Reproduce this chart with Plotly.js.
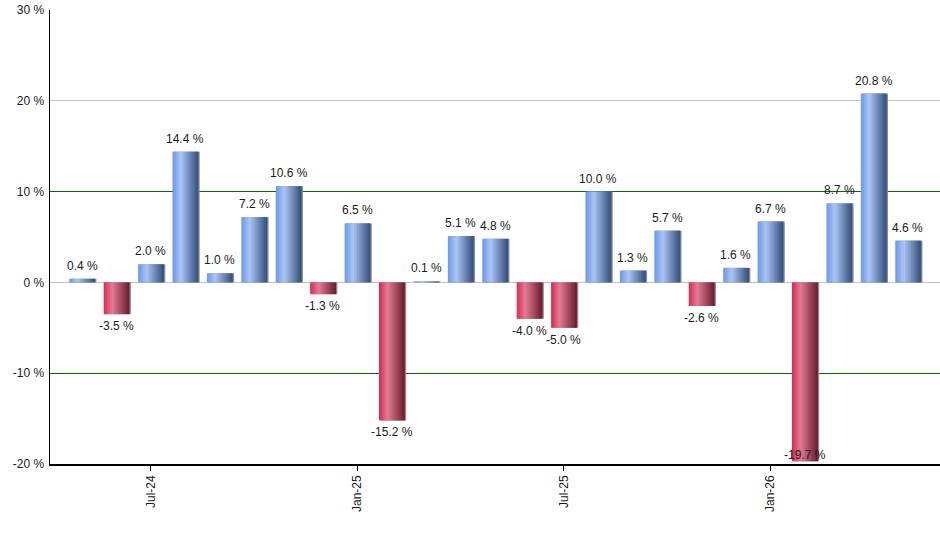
<!DOCTYPE html>
<html>
<head>
<meta charset="utf-8">
<script src="https://cdn.plot.ly/plotly-3.0.1.min.js"></script>
<style>
  html, body { margin: 0; padding: 0; background: #fff; }
  #chart { width: 940px; height: 550px; }
</style>
</head>
<body>
<div id="chart"></div>
<script>
// monthly returns, May-24 .. May-26
let months = ['May-24', 'Jun-24', 'Jul-24', 'Aug-24', 'Sep-24', 'Oct-24', 'Nov-24', 'Dec-24',
  'Jan-25', 'Feb-25', 'Mar-25', 'Apr-25', 'May-25', 'Jun-25', 'Jul-25', 'Aug-25',
  'Sep-25', 'Oct-25', 'Nov-25', 'Dec-25', 'Jan-26', 'Feb-26', 'Mar-26', 'Apr-26', 'May-26']
let returns = [0.4, -3.5, 2.0, 14.4, 1.0, 7.2, 10.6, -1.3,
  6.5, -15.2, 0.1, 5.1, 4.8, -4.0, -5.0, 10.0,
  1.3, 5.7, -2.6, 1.6, 6.7, -19.7, 8.7, 20.8, 4.6]
let shown_ticks = ['Jul-24', 'Jan-25', 'Jul-25', 'Jan-26']
let y_ticks = [-20, -10, 0, 10, 20, 30]
let green_lines = [-10, 10]

let y_min = -20
let y_max = 30

// gradient stops across the bar width (left -> right)
let blue_stops = [[0, [104, 150, 236]], [0.33, [172, 199, 247]], [1, [50, 78, 124]]]
let red_stops = [[0, [220, 36, 80]], [0.33, [228, 124, 148]], [1, [108, 26, 46]]]

let mix = function(stops, t) {
  for (let i = 1; i < stops.length; i++) {
    if (t <= stops[i][0]) {
      let a = stops[i - 1], b = stops[i]
      let k = (t - a[0]) / (b[0] - a[0])
      let c = a[1].map((v, j) => Math.round(v + (b[1][j] - v) * k))
      return 'rgb(' + c.join(',') + ')'
    }
  }
  let last = stops[stops.length - 1][1]
  return 'rgb(' + last.join(',') + ')'
}

let bar_w = 0.74
let n_slices = 16
let traces = []

// invisible trace so the overlay axis (green grid) gets drawn
traces.push({
  type: 'scatter',
  mode: 'markers',
  x: months,
  y: returns,
  yaxis: 'y2',
  marker: {opacity: 0},
  hoverinfo: 'skip'
})

// thin grey shadow on the right of each bar
traces.push({
  type: 'bar',
  x: months,
  y: returns,
  width: bar_w,
  offset: -bar_w / 2 + 0.05,
  marker: {color: '#8c8c8c', line: {width: 0}},
  hoverinfo: 'skip'
})

for (let s = 0; s < n_slices; s++) {
  let t = (s + 0.5) / n_slices
  let sw = bar_w / n_slices
  traces.push({
    type: 'bar',
    x: months,
    y: returns,
    width: sw * 1.25,
    offset: -bar_w / 2 + s * sw,
    marker: {
      color: returns.map(v => v >= 0 ? mix(blue_stops, t) : mix(red_stops, t)),
      line: {width: 0}
    },
    hoverinfo: 'skip'
  })
}

// value labels: above positive bars, below negative ones,
// tucked inside when there is no room under the bar
let labels = returns.map((v, i) => {
  let shift = v >= 0 ? 13 : -12
  if (v < 0 && v - 2 < y_min) shift = 6
  return {
    x: months[i], y: v, xref: 'x', yref: 'y',
    text: v.toFixed(1) + ' %',
    showarrow: false,
    yshift: shift,
    font: {family: 'Liberation Sans, Arial, sans-serif', size: 12, color: '#1a1a1a'}
  }
})

let layout = {
  width: 940,
  height: 550,
  margin: {l: 50, r: 0, t: 10, b: 86},
  paper_bgcolor: '#ffffff',
  plot_bgcolor: '#ffffff',
  barmode: 'overlay',
  showlegend: false,
  hovermode: false,
  font: {family: 'Liberation Sans, Arial, sans-serif', size: 12, color: '#1a1a1a'},
  xaxis: {
    type: 'category',
    range: [-0.93, months.length - 0.07],
    tickmode: 'array',
    tickvals: shown_ticks,
    ticktext: shown_ticks,
    tickangle: -90,
    ticks: 'outside',
    ticklen: 5,
    tickcolor: '#000',
    showgrid: false,
    showline: true,
    linecolor: '#000',
    linewidth: 1.5,
    zeroline: false
  },
  yaxis: {
    range: [y_min, y_max],
    tickmode: 'array',
    tickvals: y_ticks,
    ticktext: y_ticks.map(v => v + ' %'),
    ticks: '',
    showgrid: true,
    gridcolor: '#c8c8c8',
    gridwidth: 1,
    zeroline: true,
    zerolinecolor: '#c0c0c0',
    zerolinewidth: 1.5,
    showline: true,
    linecolor: '#000',
    linewidth: 1.5,
    ticklabelstandoff: 2
  },
  // the +/-10 % grid lines are dark green in the original
  yaxis2: {
    overlaying: 'y',
    range: [y_min, y_max],
    tickmode: 'array',
    tickvals: green_lines,
    showticklabels: false,
    ticks: '',
    showgrid: true,
    gridcolor: '#0b650b',
    gridwidth: 1,
    zeroline: false,
    showline: false
  },
  annotations: labels
}

Plotly.newPlot('chart', traces, layout, {staticPlot: true, displayModeBar: false})
</script>
</body>
</html>
